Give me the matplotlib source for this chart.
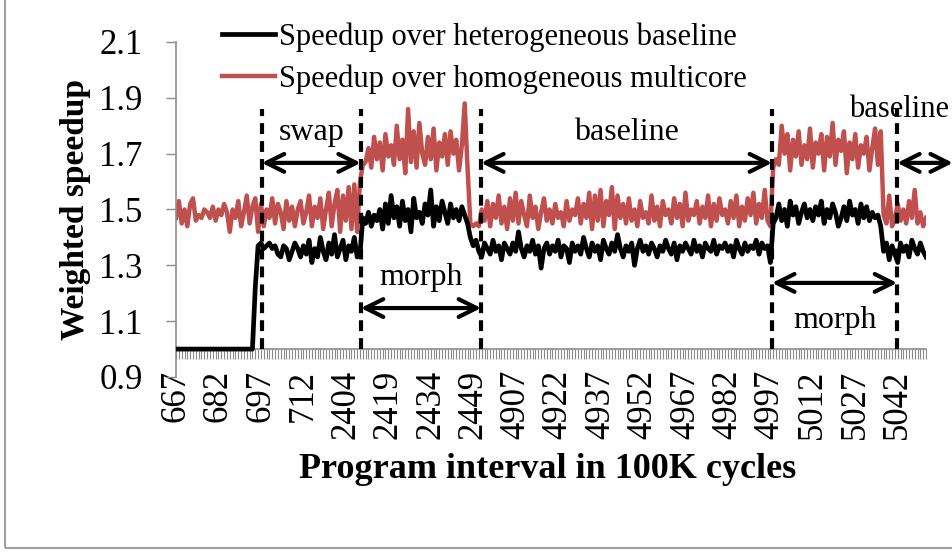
import matplotlib
matplotlib.use("Agg")
import matplotlib.pyplot as plt
import numpy as np
from matplotlib.patches import Rectangle

plt.rcParams['font.family'] = ['Liberation Serif', 'DejaVu Serif']

# tick labels shown every 15 intervals
tick_labels = ['667', '682', '697', '712', '2404', '2419', '2434', '2449', '4907',
               '4922', '4937', '4952', '4967', '4982', '4997', '5012', '5027', '5042']

# speedup over homogeneous multicore (red)
homogeneous = [
    1.47, 1.53, 1.45, 1.50, 1.44, 1.52, 1.54, 1.46, 1.48, 1.47, 1.50, 1.49, 1.47, 1.51, 1.46,
    1.50, 1.48, 1.52, 1.49, 1.42, 1.50, 1.47, 1.53, 1.44, 1.49, 1.55, 1.45, 1.51, 1.54, 1.42,
    1.52, 1.44, 1.50, 1.47, 1.54, 1.45, 1.52, 1.49, 1.43, 1.53, 1.46, 1.51, 1.44, 1.50, 1.53,
    1.45, 1.49, 1.55, 1.44, 1.51, 1.47, 1.54, 1.43, 1.50, 1.56, 1.44, 1.52, 1.57, 1.42, 1.55,
    1.46, 1.58, 1.43, 1.59, 1.42, 1.60,
    1.66, 1.67, 1.72, 1.65, 1.76, 1.68, 1.74, 1.64, 1.77, 1.69, 1.73, 1.66, 1.80, 1.68, 1.75,
    1.63, 1.86, 1.67, 1.78, 1.65, 1.81, 1.70, 1.66, 1.76, 1.68, 1.79, 1.64, 1.74, 1.69, 1.77,
    1.66, 1.78, 1.70, 1.75, 1.64, 1.73, 1.88, 1.65,
    1.45, 1.44, 1.45, 1.44, 1.50, 1.46, 1.53, 1.44, 1.52, 1.47, 1.55, 1.45, 1.51, 1.43, 1.54,
    1.46, 1.56, 1.45, 1.53, 1.48, 1.44, 1.55, 1.47, 1.51, 1.43, 1.49, 1.54, 1.46, 1.50, 1.45,
    1.52, 1.47, 1.49, 1.44, 1.53, 1.46, 1.50, 1.48, 1.54, 1.45, 1.52, 1.47, 1.56, 1.43, 1.55,
    1.46, 1.57, 1.44, 1.53, 1.48, 1.58, 1.43, 1.55, 1.47, 1.52, 1.45, 1.54, 1.46, 1.50, 1.44,
    1.53, 1.47, 1.49, 1.45, 1.55, 1.46, 1.51, 1.44, 1.53, 1.48, 1.50, 1.45, 1.54, 1.47, 1.52,
    1.44, 1.56, 1.46, 1.50, 1.48, 1.53, 1.45, 1.51, 1.47, 1.55, 1.44, 1.52, 1.46, 1.54, 1.48,
    1.50, 1.45, 1.53, 1.47, 1.55, 1.44, 1.51, 1.46, 1.54, 1.48, 1.56, 1.45, 1.52, 1.47, 1.57, 1.46,
    1.44,
    1.65, 1.68, 1.66, 1.80, 1.70, 1.77, 1.64, 1.75, 1.69, 1.78, 1.66, 1.73, 1.68, 1.79, 1.65,
    1.74, 1.70, 1.77, 1.64, 1.76, 1.69, 1.81, 1.66, 1.75, 1.71, 1.78, 1.63, 1.74, 1.68, 1.77,
    1.65, 1.73, 1.70, 1.76, 1.64, 1.72, 1.79, 1.66, 1.78,
    1.48, 1.45, 1.55, 1.44, 1.47, 1.52, 1.46, 1.50, 1.45, 1.53, 1.47, 1.57, 1.45, 1.49, 1.44, 1.47,
]

# speedup over heterogeneous baseline (black)
heterogeneous = [
    1.00, 1.00, 1.00, 1.00, 1.00, 1.00, 1.00, 1.00, 1.00, 1.00, 1.00, 1.00, 1.00, 1.00,
    1.00, 1.00, 1.00, 1.00, 1.00, 1.00, 1.00, 1.00, 1.00, 1.00, 1.00, 1.00, 1.00, 1.00,
    1.22, 1.37,
    1.38, 1.36, 1.37, 1.38, 1.36, 1.37, 1.34, 1.33, 1.37, 1.36, 1.32, 1.35, 1.38, 1.36, 1.33,
    1.37, 1.34, 1.39, 1.31, 1.36, 1.33, 1.40, 1.35, 1.32, 1.38, 1.34, 1.41, 1.33, 1.36, 1.39,
    1.32, 1.37, 1.35, 1.40, 1.33, 1.34,
    1.47, 1.45, 1.49, 1.44, 1.48, 1.46, 1.50, 1.43, 1.52, 1.45, 1.55, 1.47, 1.51, 1.44, 1.53,
    1.46, 1.50, 1.42, 1.54, 1.47, 1.49, 1.45, 1.52, 1.48, 1.57, 1.44, 1.51, 1.46, 1.53, 1.49,
    1.45, 1.52, 1.47, 1.50, 1.46, 1.51, 1.48, 1.45,
    1.40, 1.37, 1.39, 1.35, 1.33, 1.38, 1.36, 1.34, 1.39, 1.35, 1.37, 1.32, 1.38, 1.36, 1.34,
    1.38, 1.35, 1.42, 1.36, 1.33, 1.37, 1.35, 1.39, 1.34, 1.37, 1.29, 1.36, 1.38, 1.34, 1.37,
    1.35, 1.39, 1.33, 1.37, 1.36, 1.31, 1.38, 1.35, 1.37, 1.34, 1.40, 1.36, 1.33, 1.38, 1.35,
    1.37, 1.32, 1.39, 1.36, 1.34, 1.38, 1.35, 1.41, 1.36, 1.33, 1.37, 1.35, 1.38, 1.30, 1.36,
    1.39, 1.35, 1.37, 1.34, 1.38, 1.36, 1.33, 1.37, 1.35, 1.39, 1.36, 1.34, 1.38, 1.32, 1.37,
    1.35, 1.38, 1.36, 1.34, 1.39, 1.35, 1.37, 1.33, 1.38, 1.36, 1.35, 1.39, 1.34, 1.37, 1.36,
    1.38, 1.35, 1.37, 1.33, 1.39, 1.36, 1.34, 1.38, 1.35, 1.37, 1.36, 1.39, 1.34, 1.38, 1.36, 1.37, 1.31,
    1.45, 1.47, 1.52, 1.46, 1.50, 1.44, 1.53, 1.48, 1.51, 1.45, 1.49, 1.52, 1.47, 1.50, 1.46,
    1.51, 1.48, 1.53, 1.45, 1.50, 1.47, 1.52, 1.49, 1.44, 1.47, 1.51, 1.46, 1.53, 1.48, 1.50,
    1.45, 1.52, 1.47, 1.51, 1.46, 1.49, 1.47, 1.48, 1.44,
    1.35, 1.38, 1.32, 1.37, 1.34, 1.31, 1.38, 1.35, 1.37, 1.33, 1.39, 1.36, 1.34, 1.38, 1.35, 1.33,
]

# phase boundaries (in interval index units) and phase names
phase_bounds = [30.3, 65.3, 107.8, 210.6, 254.8]
phase_names = ['swap', 'morph', 'baseline', 'morph', 'baseline']

RED = '#C0504D'
GREY = '#8C8C8C'

fig = plt.figure(figsize=(9.53, 5.54), dpi=100)
ax = fig.add_axes([0.1847, 0.3195, 0.787, 0.6047])

x_h = np.arange(len(homogeneous))
x_b = np.arange(len(heterogeneous))
line_b, = ax.plot(x_b, heterogeneous, color='black', lw=3.4, solid_joinstyle='round',
                  label='Speedup over heterogeneous baseline', zorder=3)
line_r, = ax.plot(x_h, homogeneous, color=RED, lw=3.2, solid_joinstyle='round',
                  label='Speedup over homogeneous multicore', zorder=2)

ax.set_xlim(0, len(homogeneous) - 1)
ax.set_ylim(0.9, 2.1)
ax.set_yticks(np.arange(0.9, 2.11, 0.2))
ax.set_yticklabels(['%.1f' % v for v in np.arange(0.9, 2.11, 0.2)])

# x axis crossing at 1.0, tick mark at every interval
ax.spines['top'].set_visible(False)
ax.spines['right'].set_visible(False)
ax.spines['bottom'].set_position(('data', 1.0))
ax.spines['bottom'].set_color(GREY)
ax.spines['left'].set_color(GREY)
ax.spines['bottom'].set_linewidth(1.2)
ax.spines['left'].set_linewidth(1.2)

ax.set_xticks(np.arange(0, 15 * len(tick_labels), 15))
ax.set_xticklabels(tick_labels, rotation=90)
ax.set_xticks(np.arange(0, len(homogeneous)), minor=True)
ax.tick_params(axis='x', which='both', direction='out', length=7, width=0.8,
               color=GREY, labelsize=25, pad=8)
ax.tick_params(axis='y', direction='out', length=7, width=1.0, color=GREY,
               labelsize=25, pad=17)

ax.set_ylabel('Weighted speedup', fontsize=24, fontweight='bold')
ax.yaxis.set_label_coords(-0.113, 0.5)
fig.text(548 / 953, 1 - 470 / 554, 'Program interval in 100K cycles',
         fontsize=26, fontweight='bold', ha='center', va='center')

# phase markers
ax.vlines(phase_bounds, 1.0, 1.86, colors='black', lw=3,
          linestyles=(0, (2.6, 1.7)), zorder=4)

arrow_kw = dict(arrowstyle='<->', lw=3, color='black', mutation_scale=32,
                shrinkA=0, shrinkB=0)
arrow_y = [1.667, 1.147, 1.667, 1.237, 1.667]
text_y = [1.775, 1.258, 1.775, 1.104, 1.857]
ends = phase_bounds[1:] + [274.5]
for i, name in enumerate(phase_names):
    x0, x1 = phase_bounds[i], ends[i]
    ax.annotate('', xy=(x1, arrow_y[i]), xytext=(x0, arrow_y[i]),
                arrowprops=arrow_kw, annotation_clip=False)
    if i < 4:
        ax.text((x0 + x1) / 2, text_y[i], name, fontsize=23, ha='center',
                va='center', clip_on=False)
    else:
        ax.text(237.8, text_y[i], name, fontsize=22, ha='left',
                va='center', clip_on=False)

fig.legend(handles=[line_b, line_r], loc='upper left',
           bbox_to_anchor=(222 / 953, 0.96), frameon=False, fontsize=22,
           borderpad=0, borderaxespad=0, handlelength=1.75, handletextpad=0.1,
           labelspacing=0.42)

# outer chart border (cropped at top and right)
fig.add_artist(Rectangle((5 / 953, 6 / 554), 1.2, 1.2, transform=fig.transFigure,
                         fill=False, edgecolor='#A0A0A0', lw=1.5))

fig.savefig('out.png', dpi=100)
